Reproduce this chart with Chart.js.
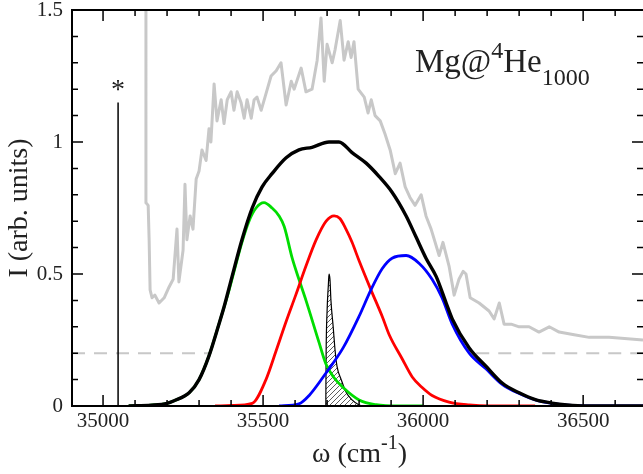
<!DOCTYPE html>
<html>
<head>
<meta charset="utf-8">
<script src="https://cdn.jsdelivr.net/npm/chart.js@4"></script>
<style>
  html, body { margin: 0; padding: 0; background: #fff; overflow: hidden; }
  #wrap { position: relative; width: 643px; height: 474px; }
  canvas { display: block; }
  .lbl { position: absolute; font-family: "Liberation Serif", "Times New Roman", serif; color: #222; white-space: nowrap; line-height: 1; }
  .lbl span { position: relative; }
</style>
</head>
<body>
<div id="wrap">
  <canvas id="chart" width="643" height="474"></canvas>
  <div class="lbl" style="left:415px; top:45px; font-size:33px;">Mg@<span style="font-size:24px; top:-14px;">4</span>He<span style="font-size:24px; top:13px;">1000</span></div>
  <div class="lbl" style="left:74px; width:571px; text-align:center; top:439px; font-size:28px;">ω (cm<span style="font-size:20px; top:-13px;">-1</span>)</div>
</div>
<script>
// tick labels
const xTicks = [35000, 35500, 36000, 36500];
const yTicks = [0, 0.5, 1, 1.5];

// experimental spectrum (grey)
const expX = [35134, 35134, 35141, 35144, 35147, 35153, 35162, 35175, 35191, 35206, 35219, 35231, 35237, 35250, 35256, 35262,
  35272, 35281, 35291, 35300, 35309, 35322, 35331, 35337, 35347, 35356, 35369, 35378, 35388, 35400, 35409, 35419, 35431,
  35441, 35450, 35463, 35472, 35481, 35494, 35506, 35525, 35541, 35556, 35572, 35588, 35597, 35619, 35634, 35653, 35669,
  35681, 35691, 35700, 35716, 35725, 35741, 35753, 35766, 35775, 35784, 35797, 35816, 35828, 35838, 35850, 35866, 35881,
  35897, 35913, 35928, 35944, 35959, 35975, 35994, 36009, 36025, 36050, 36062, 36081, 36097, 36112, 36125, 36134, 36147,
  36175, 36206, 36222, 36238, 36253, 36275, 36300, 36331, 36362, 36394, 36425, 36472, 36519, 36581, 36687];
const expY = [1.6, 0.77, 0.76, 0.63, 0.44, 0.41, 0.42, 0.39, 0.41, 0.45, 0.48, 0.67, 0.47, 0.59, 0.84, 0.63,
  0.72, 0.67, 0.86, 0.89, 0.97, 0.93, 1.05, 1.0, 1.22, 1.08, 1.16, 1.07, 1.16, 1.19, 1.12, 1.19, 1.15,
  1.09, 1.16, 1.09, 1.16, 1.17, 1.12, 1.17, 1.25, 1.27, 1.3, 1.14, 1.23, 1.2, 1.28, 1.19, 1.2, 1.31,
  1.47, 1.23, 1.37, 1.3, 1.35, 1.46, 1.31, 1.38, 1.32, 1.38, 1.2, 1.17, 1.11, 1.16, 1.1, 1.08, 1.03,
  0.97, 0.88, 0.92, 0.83, 0.79, 0.76, 0.8, 0.72, 0.67, 0.57, 0.62, 0.53, 0.42, 0.48, 0.51, 0.5, 0.41,
  0.39, 0.36, 0.33, 0.39, 0.31, 0.31, 0.3, 0.3, 0.28, 0.3, 0.28, 0.27, 0.26, 0.26, 0.25];

// total simulated band (black)
const totX = [35080, 35150, 35200, 35222, 35269, 35300, 35331, 35362, 35378, 35403, 35434, 35466, 35497, 35528, 35572,
  35612, 35653, 35706, 35737, 35778, 35822, 35862, 35903, 35947, 35978, 36009, 36041, 36072, 36091, 36144, 36197,
  36247, 36300, 36353, 36403, 36450, 36509, 36687];
const totY = [0, 0.003, 0.01, 0.02, 0.05, 0.1, 0.19, 0.31, 0.375, 0.49, 0.63, 0.75, 0.83, 0.88, 0.94,
  0.97, 0.98, 1.0, 1.0, 0.96, 0.92, 0.87, 0.81, 0.72, 0.64, 0.56, 0.49, 0.39, 0.33, 0.22, 0.15,
  0.087, 0.05, 0.023, 0.011, 0.004, 0, 0];

// components (green, red, blue)
const greenX = [35080, 35150, 35200, 35222, 35269, 35300, 35331, 35362, 35394, 35434, 35456, 35478, 35503, 35528, 35550,
  35566, 35591, 35612, 35634, 35675, 35696, 35720, 35750, 35800, 35853, 35925, 36000];
const greenY = [0, 0.003, 0.01, 0.02, 0.05, 0.1, 0.19, 0.31, 0.44, 0.62, 0.7, 0.75, 0.77, 0.75, 0.72,
  0.68, 0.56, 0.48, 0.4, 0.24, 0.16, 0.11, 0.07, 0.023, 0.005, 0, 0];
const redX = [35350, 35403, 35466, 35509, 35541, 35572, 35602, 35634, 35666, 35697, 35722, 35740, 35759, 35778, 35800,
  35837, 35872, 35894, 35934, 35966, 35997, 36028, 36081, 36144, 36206, 36350];
const redY = [0, 0.002, 0.01, 0.1, 0.21, 0.32, 0.42, 0.53, 0.63, 0.7, 0.72, 0.71, 0.67, 0.62, 0.55,
  0.44, 0.34, 0.27, 0.18, 0.11, 0.07, 0.04, 0.015, 0.004, 0, 0];
const blueX = [35550, 35612, 35644, 35696, 35750, 35800, 35837, 35872, 35903, 35947, 35988, 36028, 36059, 36091, 36144,
  36197, 36247, 36300, 36353, 36403, 36450, 36509, 36687];
const blueY = [0, 0.008, 0.04, 0.124, 0.22, 0.34, 0.44, 0.52, 0.56, 0.57, 0.54, 0.48, 0.41, 0.31, 0.2,
  0.14, 0.082, 0.047, 0.022, 0.01, 0.003, 0, 0];

// free-atom line (hatched)
const atomX = [35696, 35697, 35700, 35704, 35706, 35709, 35712, 35719, 35725, 35731, 35744, 35759, 35778, 35800, 35820];
const atomY = [0, 0.2, 0.36, 0.46, 0.5, 0.48, 0.4, 0.3, 0.21, 0.15, 0.1, 0.053, 0.023, 0.004, 0];

// marker line with asterisk and dashed threshold
const starX = [35047, 35047];
const starY = [0, 1.15];
const dashX = [34903, 35338, 35750, 36166, 36687];
const dashY = [0.2, 0.2, null, 0.2, 0.2];

const FONT = "'Liberation Serif', 'Times New Roman', serif";
const pts = (xs, ys) => xs.map((v, i) => ({ x: v, y: ys[i] }));

function hatchPattern() {
  const s = 5;
  const c = document.createElement("canvas");
  c.width = s; c.height = s;
  const g = c.getContext("2d");
  g.strokeStyle = "#333";
  g.lineWidth = 0.8;
  g.beginPath();
  g.moveTo(0, s); g.lineTo(s, 0);
  g.moveTo(-1, 1); g.lineTo(1, -1);
  g.moveTo(s - 1, s + 1); g.lineTo(s + 1, s - 1);
  g.stroke();
  return g.createPattern(c, "repeat");
}

// frame with inward ticks on all four sides
const frameTicks = {
  id: "frameTicks",
  afterDatasetsDraw(chart) {
    const { ctx, chartArea: a, scales: { x, y } } = chart;
    ctx.save();
    ctx.strokeStyle = "#000";
    ctx.lineWidth = 2;
    ctx.beginPath();
    ctx.moveTo(a.left, a.top); ctx.lineTo(a.right, a.top);
    ctx.moveTo(a.left, a.top - 1); ctx.lineTo(a.left, a.bottom + 1);
    ctx.moveTo(a.left, a.bottom); ctx.lineTo(a.right, a.bottom);
    ctx.stroke();
    ctx.lineWidth = 1.5;
    ctx.beginPath();
    for (let v = 35000; v <= 36600; v += 100) {
      const px = x.getPixelForValue(v);
      const len = xTicks.includes(v) ? 11 : 6;
      ctx.moveTo(px, a.bottom); ctx.lineTo(px, a.bottom - len);
      ctx.moveTo(px, a.top); ctx.lineTo(px, a.top + len);
    }
    for (let i = 1; i < 15; i++) {
      const v = i / 10;
      const py = y.getPixelForValue(v);
      const len = i % 5 === 0 ? 11 : 6;
      ctx.moveTo(a.left, py); ctx.lineTo(a.left + len, py);
      ctx.moveTo(a.right, py); ctx.lineTo(a.right - len, py);
    }
    ctx.stroke();
    // asterisk above the marker line
    ctx.fillStyle = "#222";
    ctx.font = "28px " + FONT;
    ctx.textAlign = "center";
    ctx.textBaseline = "alphabetic";
    ctx.fillText("*", x.getPixelForValue(starX[0]), y.getPixelForValue(starY[1]) - 4);
    ctx.restore();
  },
};

const smooth = { cubicInterpolationMode: "monotone" };

new Chart(document.getElementById("chart"), {
  type: "line",
  data: {
    datasets: [
      { data: pts(totX, totY), borderColor: "#000", borderWidth: 3.4, ...smooth },
      { data: pts(blueX, blueY), borderColor: "#0000ff", borderWidth: 2.8, ...smooth },
      { data: pts(redX, redY), borderColor: "#ff0000", borderWidth: 2.8, ...smooth },
      { data: pts(greenX, greenY), borderColor: "#00dd00", borderWidth: 2.8, ...smooth },
      { data: pts(atomX, atomY), borderColor: "#000", borderWidth: 1.2, fill: "origin", backgroundColor: hatchPattern(), ...smooth },
      { data: pts(starX, starY), borderColor: "#000", borderWidth: 1.5 },
      { data: pts(dashX, dashY), borderColor: "#c8c8c8", borderWidth: 2, borderDash: [13, 9], spanGaps: false },
      { data: pts(expX, expY), borderColor: "#c8c8c8", borderWidth: 3, borderJoinStyle: "round" },
    ],
  },
  options: {
    responsive: false,
    animation: false,
    devicePixelRatio: 1,
    layout: { padding: { top: 10, right: 0, left: 0, bottom: 0 } },
    plugins: { legend: { display: false }, tooltip: { enabled: false } },
    elements: { point: { radius: 0 }, line: { tension: 0, fill: false } },
    scales: {
      x: {
        type: "linear",
        min: 34903,
        max: 36687,
        grid: { display: false, drawTicks: false },
        border: { display: false },
        afterBuildTicks: (s) => { s.ticks = xTicks.map((v) => ({ value: v })); },
        ticks: { padding: 3, autoSkip: false, maxRotation: 0, color: "#222", font: { family: FONT, size: 21 }, callback: (v) => String(v) },
        afterFit: (s) => { s.height = 68; s.paddingLeft = 0; s.paddingRight = 0; },
      },
      y: {
        type: "linear",
        min: 0,
        max: 1.5,
        grid: { display: false, drawTicks: false },
        border: { display: false },
        afterBuildTicks: (s) => { s.ticks = yTicks.map((v) => ({ value: v })); },
        ticks: { padding: 9, autoSkip: false, color: "#222", font: { family: FONT, size: 21 }, callback: (v) => String(v) },
        title: { display: true, text: "I (arb. units)", color: "#222", font: { family: FONT, size: 28 }, padding: { top: 3, bottom: 0 } },
        afterFit: (s) => { s.width = 72; s.paddingTop = 0; s.paddingBottom = 0; },
      },
    },
  },
  plugins: [frameTicks],
});
</script>
</body>
</html>
